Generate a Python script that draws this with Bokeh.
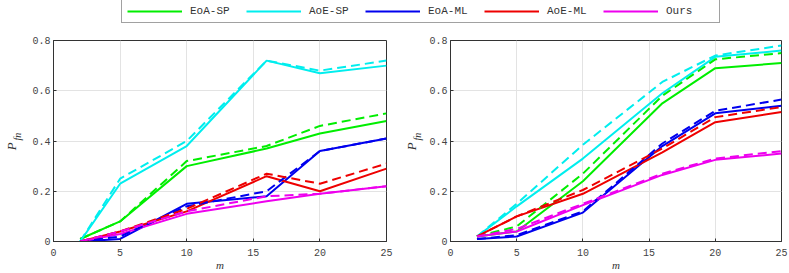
import math
from bokeh.plotting import figure
from bokeh.layouts import column, row
from bokeh.models import Range1d, Legend, LegendItem, Label, FixedTicker
from bokeh.embed import file_html
from bokeh.resources import INLINE

# ---------------- data ----------------
m = [2, 5, 10, 16, 20, 25]
series_names = ["EoA-SP", "AoE-SP", "EoA-ML", "AoE-ML", "Ours"]
colors = ["#00ee00", "#00eeee", "#0000ee", "#ee0000", "#ee00ee"]

# left panel: solid and dashed curves
left_eoa_sp = [0.01, 0.08, 0.30, 0.37, 0.43, 0.48]
left_eoa_sp_d = [0.01, 0.08, 0.32, 0.38, 0.46, 0.51]
left_aoe_sp = [0.00, 0.23, 0.38, 0.72, 0.67, 0.70]
left_aoe_sp_d = [0.00, 0.25, 0.40, 0.72, 0.68, 0.72]
left_eoa_ml = [0.00, 0.01, 0.15, 0.18, 0.36, 0.41]
left_eoa_ml_d = [0.00, 0.02, 0.14, 0.20, 0.36, 0.41]
left_aoe_ml = [0.00, 0.04, 0.12, 0.26, 0.20, 0.29]
left_aoe_ml_d = [0.00, 0.04, 0.13, 0.27, 0.23, 0.31]
left_ours = [0.00, 0.03, 0.11, 0.16, 0.19, 0.22]
left_ours_d = [0.00, 0.04, 0.12, 0.18, 0.19, 0.22]

# right panel
right_eoa_sp = [0.02, 0.04, 0.24, 0.55, 0.69, 0.71]
right_eoa_sp_d = [0.02, 0.06, 0.27, 0.58, 0.725, 0.75]
right_aoe_sp = [0.02, 0.14, 0.33, 0.59, 0.735, 0.76]
right_aoe_sp_d = [0.02, 0.15, 0.385, 0.635, 0.74, 0.78]
right_eoa_ml = [0.01, 0.02, 0.115, 0.38, 0.51, 0.54]
right_eoa_ml_d = [0.01, 0.025, 0.12, 0.39, 0.52, 0.565]
right_aoe_ml = [0.02, 0.10, 0.19, 0.355, 0.475, 0.515]
right_aoe_ml_d = [0.02, 0.10, 0.205, 0.37, 0.495, 0.535]
right_ours = [0.02, 0.04, 0.145, 0.265, 0.325, 0.35]
right_ours_d = [0.02, 0.05, 0.15, 0.27, 0.33, 0.36]

x_ticks = [0, 5, 10, 15, 20, 25]
y_ticks = [0, 0.2, 0.4, 0.6, 0.8]
y_tick_labels = {0: "0", 0.2: "0.2", 0.4: "0.4", 0.6: "0.6", 0.8: "0.8"}

left_solid = [left_eoa_sp, left_aoe_sp, left_eoa_ml, left_aoe_ml, left_ours]
left_dashed = [left_eoa_sp_d, left_aoe_sp_d, left_eoa_ml_d, left_aoe_ml_d, left_ours_d]
right_solid = [right_eoa_sp, right_aoe_sp, right_eoa_ml, right_aoe_ml, right_ours]
right_dashed = [right_eoa_sp_d, right_aoe_sp_d, right_eoa_ml_d, right_aoe_ml_d, right_ours_d]

TICK_FONT = "Liberation Mono"
LABEL_FONT = "Liberation Serif"
DARK = "#333333"
PLOT_H = 247
STRIP_W = 25


def make_panel(width, border_left, border_right, solids, dasheds):
    p = figure(width=width, height=PLOT_H, output_backend="svg", toolbar_location=None,
               x_range=Range1d(0, 25), y_range=Range1d(0, 0.8),
               min_border_left=border_left, min_border_right=border_right,
               min_border_top=14, min_border_bottom=0)
    p.background_fill_color = "white"
    p.outline_line_color = DARK
    p.outline_line_width = 1
    for ax in (p.xaxis[0], p.yaxis[0]):
        ax.axis_line_color = DARK
        ax.major_tick_in = 3
        ax.major_tick_out = 0
        ax.minor_tick_line_color = None
        ax.major_tick_line_color = DARK
        ax.major_label_text_font = TICK_FONT
        ax.major_label_text_font_size = "10px"
        ax.major_label_text_color = "#444444"
    p.xaxis.major_label_standoff = 7
    p.yaxis.major_label_standoff = 3
    p.xaxis.ticker = FixedTicker(ticks=x_ticks)
    p.yaxis.ticker = FixedTicker(ticks=y_ticks)
    p.yaxis.major_label_overrides = y_tick_labels
    p.xaxis.axis_label = "m"
    p.xaxis.axis_label_text_font = LABEL_FONT
    p.xaxis.axis_label_text_font_style = "italic"
    p.xaxis.axis_label_text_font_size = "11px"
    p.xaxis.axis_label_text_color = DARK
    p.xaxis.axis_label_standoff = 0
    p.grid.grid_line_color = "#e3e3e3"
    p.grid.grid_line_width = 1

    for ys, c in zip(solids, colors):
        p.line(m, ys, line_color=c, line_width=2)
    for ys, c in zip(dasheds, colors):
        p.line(m, ys, line_color=c, line_width=2, line_dash="9 5")
    return p


def make_ylabel(width):
    # narrow strip holding the rotated y-axis label P_fn (1 unit = 1 pixel)
    f = figure(width=width, height=PLOT_H, output_backend="svg", toolbar_location=None,
               x_range=Range1d(0, width), y_range=Range1d(0, PLOT_H),
               min_border=0, x_axis_type=None, y_axis_type=None)
    f.outline_line_color = None
    f.grid.visible = False
    f.add_layout(Label(x=11, y=112, text="P", angle=math.pi / 2,
                       text_font=LABEL_FONT, text_font_style="italic",
                       text_font_size="13px", text_color=DARK,
                       text_align="left", text_baseline="alphabetic"))
    f.add_layout(Label(x=17, y=124, text="fn", angle=math.pi / 2,
                       text_font=LABEL_FONT, text_font_style="italic",
                       text_font_size="10px", text_color=DARK,
                       text_align="left", text_baseline="alphabetic"))
    return f


lab1 = make_ylabel(STRIP_W)
p1 = make_panel(400 - STRIP_W, 53 - STRIP_W, 14, left_solid, left_dashed)
lab2 = make_ylabel(STRIP_W)
p2 = make_panel(389 - STRIP_W, 50 - STRIP_W, 8, right_solid, right_dashed)

# legend strip (its renderers lie outside the visible range)
lf = figure(width=789, height=26, output_backend="svg", toolbar_location=None,
            x_range=Range1d(100, 101), y_range=Range1d(100, 101),
            min_border=0, x_axis_type=None, y_axis_type=None)
lf.outline_line_color = None
lf.grid.visible = False
items = []
for name, c, ys in zip(series_names, colors, left_solid):
    r = lf.line(m, ys, line_color=c, line_width=2)
    items.append(LegendItem(label=name, renderers=[r]))
legend = Legend(items=items, orientation="horizontal", location=(121, 3),
                glyph_width=55, glyph_height=10, label_standoff=8, label_width=48,
                spacing=8, padding=5, margin=0,
                label_text_font=TICK_FONT, label_text_font_size="11px",
                label_text_color=DARK, label_height=10,
                border_line_color="#444444", border_line_width=1,
                background_fill_color="white")
lf.add_layout(legend, "center")

layout = column(lf, row(lab1, p1, lab2, p2, spacing=0), spacing=0)

open("out.html", "w").write(file_html(layout, INLINE))
